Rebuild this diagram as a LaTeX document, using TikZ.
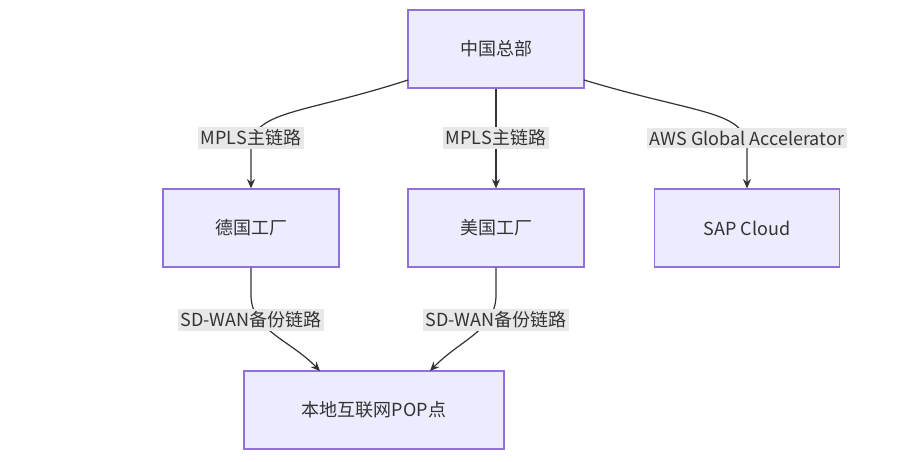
\documentclass[tikz,border=0pt]{standalone}
\usepackage{fontspec}
\setmainfont{Noto Sans CJK SC}
\usetikzlibrary{arrows.meta}
\definecolor{nfill}{HTML}{ECECFF}
\definecolor{nstroke}{HTML}{9370DB}
\definecolor{edge}{HTML}{333333}
\definecolor{lbg}{HTML}{E8E8E8}
\begin{document}
\begin{tikzpicture}[x=0.75pt,y=-0.75pt,
  box/.style={draw=nstroke,fill=nfill,line width=0.9pt,minimum height=58.5pt,inner sep=0pt,font=\fontsize{13.5}{16}\selectfont,text=edge},
  lab/.style={fill=lbg,inner sep=2pt,font=\fontsize{13.5}{16}\selectfont,text=edge},
  e/.style={draw=edge,line width=0.9pt,-{Stealth[length=7pt,width=6pt]}}]
\fill[white] (0,0) rectangle (914,461);
\node[box,minimum width=132pt] (hq) at (496,49) {中国总部};
\node[box,minimum width=132pt] (de) at (251,228) {德国工厂};
\node[box,minimum width=132pt] (us) at (496,228) {美国工厂};
\node[box,minimum width=139pt] (sap) at (747,228) {SAP Cloud};
\node[box,minimum width=195pt] (pop) at (374,410) {本地互联网POP点};
\coordinate (hl) at (408,80);
\coordinate (hr) at (584,80);
\draw[e] (hl) .. controls (300,115) and (251,110) .. (251,150) -- (de.north);
\draw[e] (hq.south) -- (us.north);
\draw[e] (hr) .. controls (700,115) and (747,110) .. (747,150) -- (sap.north);
\coordinate (pl) at (320,371);
\coordinate (pr) at (430,371);
\draw[e] (de.south) -- (251,295) .. controls (251,330) and (290,340) .. (pl);
\draw[e] (us.south) -- (496,295) .. controls (496,330) and (460,340) .. (pr);
\node[lab] at (251,138) {MPLS主链路};
\node[lab] at (496,138) {MPLS主链路};
\node[lab] at (747,138) {AWS Global Accelerator};
\node[lab] at (251,320) {SD-WAN备份链路};
\node[lab] at (496,320) {SD-WAN备份链路};
\end{tikzpicture}
\end{document}
